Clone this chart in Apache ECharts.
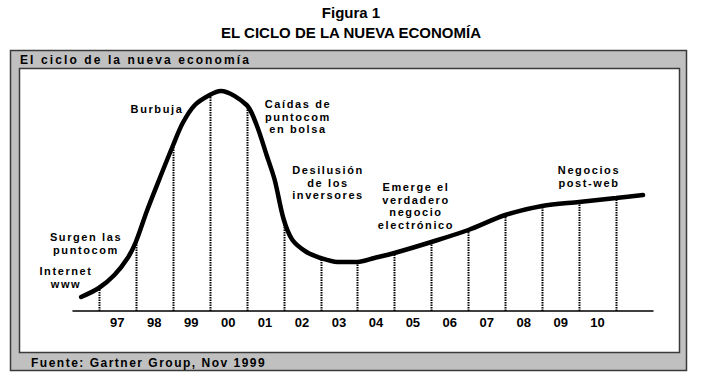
<!DOCTYPE html>
<html><head><meta charset="utf-8">
<script src="https://cdn.jsdelivr.net/npm/echarts@6/dist/echarts.min.js"></script>
<style>html,body{margin:0;padding:0;background:#fff}#c{width:702px;height:384px}</style>
</head><body><div id="c"></div>
<script>
// ---- data ----
const yearLabels = ['97','98','99','00','01','02','03','04','05','06','07','08','09','10'];
// x in "year boundary" units (0 = boundary before 97), y = relative level
const curveX = [-0.48, 0, 0.42, 0.78, 1, 1.3, 1.65, 2, 2.27, 2.6, 3, 3.3, 4, 4.27, 4.54, 4.76, 5, 5.24, 5.62, 6, 6.46, 7, 7.46, 8, 9, 10, 11, 12, 13, 14, 14.73];
const curveY = [14, 23, 36, 53, 69, 100, 133, 165, 188, 206, 216, 220, 206, 186, 156, 131, 92, 71, 59, 53, 49, 49, 53, 58, 69, 81, 96, 105, 109, 113, 116];
const annotationTexts = [
  'Internet\nwww',
  'Surgen las\npuntocom',
  'Burbuja',
  'Caídas de\npuntocom\nen bolsa',
  'Desilusión\nde los\ninversores',
  'Emerge el\nverdadero\nnegocio\nelectrónico',
  'Negocios\npost-web'
];
const titleLines = ['Figura 1', 'EL CICLO DE LA NUEVA ECONOMÍA'];
const panelTitle = 'El ciclo de la nueva economía';
const sourceText = 'Fuente: Gartner Group, Nov 1999';

// ---- layout (pixels) ----
const annotationPos = [[66, 277.5], [86, 243.5], [157, 109], [298, 116.5], [328, 182.5], [416, 206], [589, 176.5]];
const FONT = '"Liberation Sans", Arial, sans-serif';

const boundaryPts = curveX.map((x, i) => [x, curveY[i]]).filter(p => Number.isInteger(p[0]));
const curvePts = curveX.map((x, i) => [x, curveY[i]]);

const chart = echarts.init(document.getElementById('c'), null, {renderer: 'svg'});

const graphics = [
  {type: 'rect', z: -10, shape: {x: 10.5, y: 50.5, width: 676, height: 320}, style: {fill: '#c0c0c0', stroke: '#3a3a3a', lineWidth: 1.5}},
  {type: 'rect', z: -9, shape: {x: 19.5, y: 68.5, width: 660, height: 284}, style: {fill: '#ffffff', stroke: '#3a3a3a', lineWidth: 1.5}},
  {type: 'text', z: 50, style: {text: titleLines[0], x: 351, y: 12, textAlign: 'center', textVerticalAlign: 'middle', font: 'bold 15px ' + FONT, fill: '#000'}},
  {type: 'text', z: 50, style: {text: titleLines[1], x: 351, y: 32, textAlign: 'center', textVerticalAlign: 'middle', font: 'bold 15px ' + FONT, fill: '#000'}},
  {type: 'text', z: 50, style: {text: panelTitle, x: 20, y: 60, textAlign: 'left', textVerticalAlign: 'middle', font: 'bold 12px ' + FONT, fill: '#000'}},
  {type: 'text', z: 50, style: {text: sourceText, x: 31, y: 363, textAlign: 'left', textVerticalAlign: 'middle', font: 'bold 12px ' + FONT, fill: '#000'}}
];
annotationTexts.forEach((t, i) => {
  graphics.push({type: 'text', z: 50, style: {text: t, x: annotationPos[i][0], y: annotationPos[i][1], textAlign: 'center', textVerticalAlign: 'middle', font: 'bold 11px ' + FONT, lineHeight: 12.7, fill: '#000'}});
});

chart.setOption({
  animation: false,
  backgroundColor: '#fff',
  grid: {left: 73, right: 49, top: 70, bottom: 73},
  xAxis: {
    type: 'value', min: -0.7, max: 15,
    axisLine: {show: true, lineStyle: {color: '#000', width: 1.5}},
    axisTick: {show: false},
    splitLine: {show: false},
    axisLabel: {
      customValues: yearLabels.map((_, i) => i + 0.5),
      formatter: v => yearLabels[Math.floor(v)],
      margin: 5,
      color: '#000', fontSize: 13, fontWeight: 'bold', fontFamily: FONT
    }
  },
  yAxis: {type: 'value', min: 0, max: 241, show: false},
  graphic: graphics,
  series: [
    {
      type: 'custom', z: 2,
      data: boundaryPts,
      renderItem: (params, api) => {
        const x = api.value(0), y = api.value(1);
        const p0 = api.coord([x, 0]), p1 = api.coord([x, y]);
        const px = Math.round(p0[0]) + 0.5;
        return {type: 'line', shape: {x1: px, y1: p0[1], x2: px, y2: p1[1]},
          style: {stroke: '#000', lineWidth: 2, lineDash: [1.5, 1]}};
      }
    },
    {
      type: 'line', z: 3, data: curvePts, smooth: 0.3, showSymbol: false, clip: false,
      lineStyle: {color: '#000', width: 4.5, cap: 'round'}
    }
  ]
});

function spacing() {
  const map = {};
  map[panelTitle] = '2.1px';
  map[sourceText] = '1.5px';
  annotationTexts.forEach(t => t.split('\n').forEach(l => map[l] = '1.6px'));
  document.querySelectorAll('#c svg text').forEach(el => {
    const s = map[el.textContent];
    if (s) el.style.letterSpacing = s;
  });
}
spacing();
chart.on('finished', spacing);
</script></body></html>
